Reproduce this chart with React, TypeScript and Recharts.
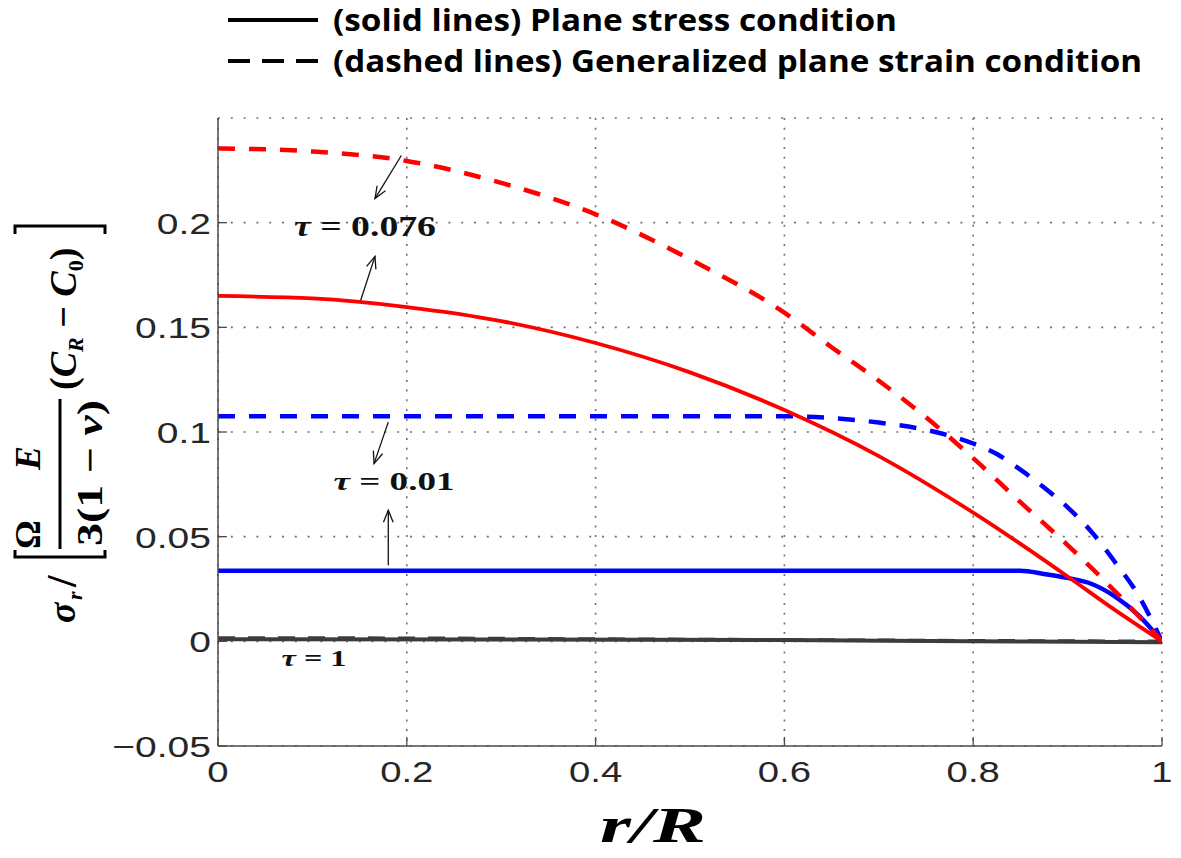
import React from 'react';
import { LineChart, Line, XAxis, YAxis, CartesianGrid, ReferenceLine, ReferenceDot } from 'recharts';

// ---- axis ticks ----
const xTicks = [0, 0.2, 0.4, 0.6, 0.8, 1];
const xTickLabels = ['0', '0.2', '0.4', '0.6', '0.8', '1'];
const yTicks = [-0.05, 0, 0.05, 0.1, 0.15, 0.2];
const yTickLabels = ['\u22120.05', '0', '0.05', '0.1', '0.15', '0.2'];

// ---- series: tau = 0.076, generalized plane strain (red dashed) ----
const redDashedR = [0, 0.1, 0.2, 0.3, 0.4, 0.5, 0.6, 0.65, 0.7, 0.75, 0.8, 0.85, 0.9, 0.95, 1];
const redDashedV = [0.2355, 0.234, 0.2295, 0.219, 0.204, 0.1825, 0.157, 0.1405, 0.1245, 0.107, 0.0875, 0.0665, 0.046, 0.024, 0];
// ---- tau = 0.076, plane stress (red solid) ----
const redSolidR = [0, 0.1, 0.2, 0.3, 0.4, 0.5, 0.6, 0.7, 0.8, 0.9, 0.95, 1];
const redSolidV = [0.165, 0.1638, 0.1597, 0.153, 0.1425, 0.1285, 0.1105, 0.0885, 0.0615, 0.031, 0.015, 0];
// ---- tau = 0.01, generalized plane strain (blue dashed) ----
const blueDashedR = [0, 0.6, 0.7, 0.75, 0.8, 0.825, 0.85, 0.875, 0.9, 0.925, 0.95, 0.975, 1];
const blueDashedV = [0.1075, 0.1075, 0.1045, 0.101, 0.0945, 0.0895, 0.082, 0.0735, 0.064, 0.0525, 0.038, 0.022, 0];
// ---- tau = 0.01, plane stress (blue solid) ----
const blueSolidR = [0, 0.85, 0.875, 0.9, 0.925, 0.95, 0.975, 1];
const blueSolidV = [0.0337, 0.0337, 0.0322, 0.0303, 0.0275, 0.0215, 0.0125, 0];
// ---- tau = 1 ----
const blackSolidR = [0, 0.3, 0.6, 0.8, 1];
const blackSolidV = [0.001, 0.0009, 0.0006, 0.0, -0.0004];
const blackDashedR = [0, 0.2, 0.4, 0.6, 0.8, 1];
const blackDashedV = [0.0016, 0.0015, 0.0011, 0.0007, 0.0003, 0];

// ---- annotations (data coordinates) ----
const tauLabels = [
  { r: 0.1557, v: 0.1934, text: '0.076', size: 29, len: 142 },
  { r: 0.1864, v: 0.0721, text: '0.01', size: 26, len: 121 },
  { r: 0.1017, v: -0.0119, text: '1', size: 24, len: 65 },
];
const arrows = [
  [{ x: 0.1942, y: 0.2321 }, { x: 0.1663, y: 0.2115 }],
  [{ x: 0.1511, y: 0.1628 }, { x: 0.1663, y: 0.1839 }],
  [{ x: 0.1804, y: 0.1047 }, { x: 0.1653, y: 0.0849 }],
  [{ x: 0.1804, y: 0.0363 }, { x: 0.1804, y: 0.0626 }],
];

const pts = (rs: number[], vs: number[]) => rs.map((r, i) => ({ r, v: vs[i] }));

const AXIS = '#4a4a4a';
const TICK_TEXT = '#262626';
const SANS = "'Liberation Sans', Arial, sans-serif";
const SERIF = "'Liberation Serif', 'DejaVu Serif', serif";

const fmtX = (v: number) => xTickLabels[xTicks.indexOf(v)] ?? String(v);
const fmtY = (v: number) => yTickLabels[yTicks.indexOf(v)] ?? String(v);

const LeftTick = (p: any) => (
  <g>
    <line x1={p.x} y1={p.y} x2={p.x + 9} y2={p.y} stroke={AXIS} strokeWidth={1.3} />
    <text
      transform={`translate(${p.x - 7},${p.y + 11}) scale(1.3,1)`}
      textAnchor="end"
      fontSize={30}
      fontFamily={SANS}
      fill={TICK_TEXT}
    >
      {fmtY(p.payload.value)}
    </text>
  </g>
);
const RightTick = (p: any) => (
  <line x1={p.x} y1={p.y} x2={p.x - 9} y2={p.y} stroke={AXIS} strokeWidth={1.3} />
);
const BottomTick = (p: any) => (
  <g>
    <line x1={p.x} y1={p.y} x2={p.x} y2={p.y - 9} stroke={AXIS} strokeWidth={1.3} />
    <text
      transform={`translate(${p.x},${p.y + 36}) scale(1.32,1)`}
      textAnchor="middle"
      fontSize={29}
      fontFamily={SANS}
      fill={TICK_TEXT}
    >
      {fmtX(p.payload.value)}
    </text>
  </g>
);
const TopTick = (p: any) => (
  <line x1={p.x} y1={p.y} x2={p.x} y2={p.y + 9} stroke={AXIS} strokeWidth={1.3} />
);

const arrowShape = (p: any) => {
  const { x1, y1, x2, y2 } = p;
  const ang = Math.atan2(y2 - y1, x2 - x1);
  const L = 13;
  const a = (22 * Math.PI) / 180;
  const hx1 = x2 - L * Math.cos(ang - a);
  const hy1 = y2 - L * Math.sin(ang - a);
  const hx2 = x2 - L * Math.cos(ang + a);
  const hy2 = y2 - L * Math.sin(ang + a);
  return (
    <g stroke="#111" strokeWidth={1.3} fill="none">
      <line x1={x1} y1={y1} x2={x2} y2={y2} />
      <polyline points={`${hx1},${hy1} ${x2},${y2} ${hx2},${hy2}`} />
    </g>
  );
};

const tauShape = (item: any) => (p: any) => (
  <text
    x={p.cx}
    y={p.cy}
    textAnchor="middle"
    fontFamily={SERIF}
    fontWeight="bold"
    fontSize={item.size}
    fill="#111"
    textLength={item.len}
    lengthAdjust="spacingAndGlyphs"
  >
    <tspan fontStyle="italic">τ</tspan>
    <tspan> = {item.text}</tspan>
  </text>
);

const YLabel = () => (
  <g transform="translate(60,623) rotate(-90)" fontFamily={SERIF} fontWeight="bold" fill="#000">
    <text x={0} y={15} fontSize={38} fontStyle="italic">σ</text>
    <text x={23} y={22} fontSize={22} fontStyle="italic">r</text>
    <text x={36} y={16} fontSize={42}>/</text>
    <path d="M73,-45 L66,-45 L66,45 L73,45" stroke="#000" strokeWidth={3} fill="none" />
    <text x={74} y={-20} fontSize={36}>Ω</text>
    <text x={153} y={-20} fontSize={36} fontStyle="italic">E</text>
    <line x1={74} y1={0} x2={224} y2={0} stroke="#000" strokeWidth={3} />
    <text x={77} y={42} fontSize={36} textLength={146} lengthAdjust="spacingAndGlyphs">
      3(1 − <tspan fontStyle="italic">ν</tspan>)
    </text>
    <text x={233} y={16} fontSize={38}>
      (<tspan fontStyle="italic">C</tspan>
      <tspan fontSize={22} fontStyle="italic" dy={7}>R</tspan>
      <tspan dy={-7}> − </tspan>
      <tspan fontStyle="italic">C</tspan>
      <tspan fontSize={22} dy={7}>0</tspan>
      <tspan dy={-7}>)</tspan>
    </text>
    <path d="M389,-45 L397,-45 L397,45 L389,45" stroke="#000" strokeWidth={3} fill="none" />
  </g>
);

const XLabel = () => (
  <text
    x={653}
    y={842}
    textAnchor="middle"
    fontFamily={SERIF}
    fontWeight="bold"
    fontStyle="italic"
    fontSize={50}
    fill="#000"
    textLength={106}
    lengthAdjust="spacingAndGlyphs"
  >
    r/R
  </text>
);

const LegendOverlay = () => (
  <svg
    width={1181}
    height={100}
    style={{ position: 'absolute', left: 0, top: 0, pointerEvents: 'none' }}
  >
    <line x1={228} y1={20} x2={318} y2={20} stroke="#000" strokeWidth={4} />
    <text
      x={333}
      y={31}
      fontFamily="'Open Sans', 'Noto Sans', sans-serif"
      fontWeight={700}
      fontSize={30}
      fill="#000"
      textLength={564}
      lengthAdjust="spacingAndGlyphs"
    >
      (solid lines) Plane stress condition
    </text>
    <line x1={228} y1={61} x2={318} y2={61} stroke="#000" strokeWidth={4} strokeDasharray="22 12" />
    <text
      x={333}
      y={72}
      fontFamily="'Open Sans', 'Noto Sans', sans-serif"
      fontWeight={700}
      fontSize={30}
      fill="#000"
      textLength={809}
      lengthAdjust="spacingAndGlyphs"
    >
      (dashed lines) Generalized plane strain condition
    </text>
  </svg>
);

export default function App() {
  return (
    <div style={{ position: 'absolute', left: 0, top: 0, width: 1181, height: 858, background: '#fff' }}>
      <LineChart
        width={1181}
        height={858}
        margin={{ top: 118, right: 19, bottom: 82, left: 138 }}
      >
        <CartesianGrid horizontal={false} vertical stroke="#707070" strokeWidth={1.6} strokeDasharray="2 7.7" />
        <CartesianGrid horizontal vertical={false} stroke="#707070" strokeWidth={1.6} strokeDasharray="2 10.8" />
        <XAxis
          type="number"
          dataKey="r"
          domain={[0, 1]}
          ticks={xTicks}
          tick={BottomTick}
          tickSize={0}
          tickMargin={0}
          tickLine={false}
          axisLine={{ stroke: AXIS, strokeWidth: 1.5 }}
          height={30}
          interval={0}
          allowDataOverflow
          label={<XLabel />}
        />
        <XAxis
          xAxisId="top"
          orientation="top"
          type="number"
          dataKey="r"
          domain={[0, 1]}
          ticks={xTicks}
          tick={TopTick}
          tickSize={0}
          tickMargin={0}
          tickLine={false}
          axisLine={{ stroke: AXIS, strokeWidth: 1.5 }}
          height={0}
          interval={0}
          allowDataOverflow
        />
        <YAxis
          type="number"
          domain={[-0.05, 0.25]}
          ticks={yTicks}
          tick={LeftTick}
          tickSize={0}
          tickMargin={0}
          tickLine={false}
          axisLine={{ stroke: AXIS, strokeWidth: 1.5 }}
          width={80}
          interval={0}
          allowDataOverflow
          label={<YLabel />}
        />
        <YAxis
          yAxisId="right"
          orientation="right"
          type="number"
          domain={[-0.05, 0.25]}
          ticks={yTicks}
          tick={RightTick}
          tickSize={0}
          tickMargin={0}
          tickLine={false}
          axisLine={{ stroke: AXIS, strokeWidth: 1.5 }}
          width={0}
          interval={0}
          allowDataOverflow
        />

        <Line data={pts(blackDashedR, blackDashedV)} dataKey="v" type="monotone" dot={false} isAnimationActive={false} stroke="#3c3c3c" strokeWidth={3.5} strokeDasharray="17 13" />
        <Line data={pts(blackSolidR, blackSolidV)} dataKey="v" type="monotone" dot={false} isAnimationActive={false} stroke="#3c3c3c" strokeWidth={4} />
        <Line data={pts(blueDashedR, blueDashedV)} dataKey="v" type="monotone" dot={false} isAnimationActive={false} stroke="#0000ff" strokeWidth={4.5} strokeDasharray="17 14" />
        <Line data={pts(blueSolidR, blueSolidV)} dataKey="v" type="monotone" dot={false} isAnimationActive={false} stroke="#0000ff" strokeWidth={4.5} />
        <Line data={pts(redDashedR, redDashedV)} dataKey="v" type="monotone" dot={false} isAnimationActive={false} stroke="#ff0000" strokeWidth={4.5} strokeDasharray="17 14" />
        <Line data={pts(redSolidR, redSolidV)} dataKey="v" type="monotone" dot={false} isAnimationActive={false} stroke="#ff0000" strokeWidth={3.8} />

        {arrows.map((seg, i) => (
          <ReferenceLine key={`a${i}`} segment={seg} shape={arrowShape} ifOverflow="visible" />
        ))}
        {tauLabels.map((t, i) => (
          <ReferenceDot key={`t${i}`} x={t.r} y={t.v} r={0} shape={tauShape(t)} ifOverflow="visible" />
        ))}
      </LineChart>
      <LegendOverlay />
    </div>
  );
}
